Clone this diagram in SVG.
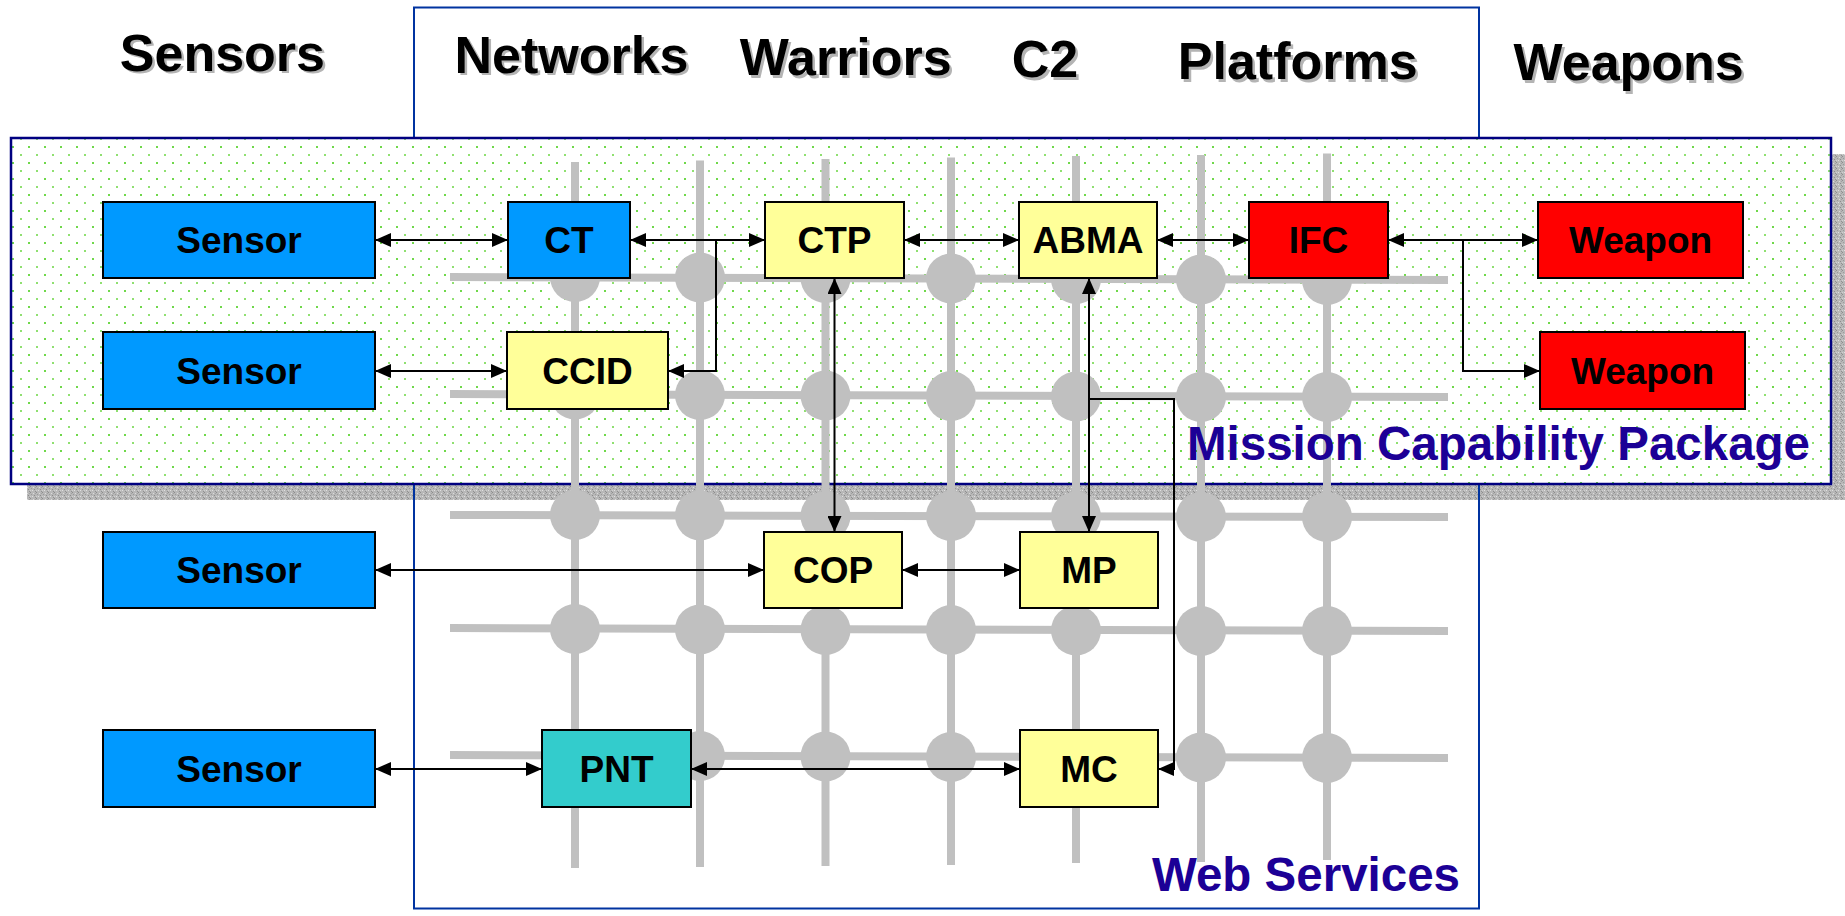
<svg xmlns="http://www.w3.org/2000/svg" width="1845" height="916" viewBox="0 0 1845 916">
  <style>
    .hdr { font-family: "Liberation Sans", Arial, sans-serif; font-weight: bold; font-size: 52px; text-anchor: middle; fill: #000; }
    .hdr-sh { font-family: "Liberation Sans", Arial, sans-serif; font-weight: bold; font-size: 52px; text-anchor: middle; fill: #b4b4b4; }
    .lbl { font-family: "Liberation Sans", Arial, sans-serif; font-weight: bold; font-size: 37px; text-anchor: middle; fill: #000; }
    .big { font-family: "Liberation Sans", Arial, sans-serif; font-weight: bold; font-size: 47.5px; text-anchor: end; fill: #1c0096; }
    .box { stroke: #000; stroke-width: 2; }
    .blue { fill: #0099ff; }
    .red { fill: #ff0000; }
    .yel { fill: #ffff99; }
    .teal { fill: #33cccc; }
    .gv { stroke: #c0c0c0; stroke-width: 8; fill: none; }
    .gn { fill: #c0c0c0; }
    .conn { stroke: #000; stroke-width: 2; fill: none; }
    .both { marker-start: url(#arr); marker-end: url(#arr); }
    .one { marker-end: url(#arr); }
  </style>
  <defs>
    <pattern id="dots" patternUnits="userSpaceOnUse" x="0" y="0" width="16" height="16">
      <rect width="16" height="16" fill="#ffffff"/>
      <rect x="12" y="2" width="2" height="2" fill="#6fd84a"/>
      <rect x="4" y="10" width="2" height="2" fill="#8fe070"/>
    </pattern>
    <pattern id="grain" patternUnits="userSpaceOnUse" width="6" height="6">
      <rect width="6" height="6" fill="#b8b8b8"/>
      <rect x="0" y="0" width="1" height="1" fill="#8c8c8c"/>
      <rect x="3" y="1" width="1" height="1" fill="#dcdcdc"/>
      <rect x="1" y="2" width="1" height="1" fill="#9a9a9a"/>
      <rect x="4" y="3" width="1" height="1" fill="#8c8c8c"/>
      <rect x="2" y="4" width="1" height="1" fill="#e0e0e0"/>
      <rect x="5" y="5" width="1" height="1" fill="#909090"/>
      <rect x="0" y="4" width="1" height="1" fill="#d0d0d0"/>
      <rect x="5" y="1" width="1" height="1" fill="#a0a0a0"/>
    </pattern>
    <marker id="arr" markerUnits="userSpaceOnUse" markerWidth="16" markerHeight="14" refX="16" refY="7" orient="auto-start-reverse">
      <path d="M0,0 L16,7 L0,14 z" fill="#000"/>
    </marker>
  </defs>

  <rect width="1845" height="916" fill="#ffffff"/>

  <!-- Mission capability package shadow -->
  <rect x="27" y="154" width="1820" height="346" fill="url(#grain)"/>

  <!-- Web services frame -->
  <rect id="web-services" x="414" y="7.5" width="1065" height="901" fill="none" stroke="#0033a0" stroke-width="2"/>

  <!-- Mission capability package frame -->
  <rect id="mission-capability-package" x="11" y="138" width="1820" height="346" fill="url(#dots)" stroke="#000080" stroke-width="2.5"/>

  <!-- Network grid -->
  <g id="grid">
    <line class="gv" x1="450" y1="277" x2="1448" y2="280"/>
    <line class="gv" x1="450" y1="394" x2="1448" y2="397"/>
    <line class="gv" x1="450" y1="515" x2="1448" y2="517"/>
    <line class="gv" x1="450" y1="628" x2="1448" y2="631"/>
    <line class="gv" x1="450" y1="755" x2="1448" y2="758"/>
    <line class="gv" x1="575" y1="162" x2="575" y2="868"/>
    <line class="gv" x1="700" y1="160.5" x2="700" y2="867"/>
    <line class="gv" x1="825.5" y1="159" x2="825.5" y2="866"/>
    <line class="gv" x1="951" y1="157.5" x2="951" y2="865"/>
    <line class="gv" x1="1076" y1="156" x2="1076" y2="863"/>
    <line class="gv" x1="1201" y1="155" x2="1201" y2="862"/>
    <line class="gv" x1="1327" y1="153.5" x2="1327" y2="860"/>
    <g class="gn">
      <circle cx="575" cy="277" r="25"/><circle cx="700" cy="277.5" r="25"/><circle cx="825.5" cy="278" r="25"/><circle cx="951" cy="278.5" r="25"/><circle cx="1076" cy="279" r="25"/><circle cx="1201" cy="279.5" r="25"/><circle cx="1327" cy="280" r="25"/>
      <circle cx="575" cy="394.5" r="25"/><circle cx="700" cy="395" r="25"/><circle cx="825.5" cy="395.5" r="25"/><circle cx="951" cy="396" r="25"/><circle cx="1076" cy="396.5" r="25"/><circle cx="1201" cy="397" r="25"/><circle cx="1327" cy="397" r="25"/>
      <circle cx="575" cy="515" r="25"/><circle cx="700" cy="515.5" r="25"/><circle cx="825.5" cy="516" r="25"/><circle cx="951" cy="516" r="25"/><circle cx="1076" cy="516.5" r="25"/><circle cx="1201" cy="517" r="25"/><circle cx="1327" cy="517" r="25"/>
      <circle cx="575" cy="629" r="25"/><circle cx="700" cy="629.5" r="25"/><circle cx="825.5" cy="630" r="25"/><circle cx="951" cy="630" r="25"/><circle cx="1076" cy="630.5" r="25"/><circle cx="1201" cy="631" r="25"/><circle cx="1327" cy="631" r="25"/>
      <circle cx="575" cy="755.5" r="25"/><circle cx="700" cy="756" r="25"/><circle cx="825.5" cy="756.5" r="25"/><circle cx="951" cy="757" r="25"/><circle cx="1076" cy="757" r="25"/><circle cx="1201" cy="757.5" r="25"/><circle cx="1327" cy="758" r="25"/>
    </g>
  </g>

  <!-- Column headings -->
  <g id="headings">
    <text class="hdr-sh" x="224.9" y="73.2">Sensors</text>
    <text class="hdr" x="222.4" y="70.7">Sensors</text>
    <text class="hdr-sh" x="574" y="75.2">Networks</text>
    <text class="hdr" x="571.5" y="72.7">Networks</text>
    <text class="hdr-sh" x="848.3" y="77.5">Warriors</text>
    <text class="hdr" x="845.8" y="75">Warriors</text>
    <text class="hdr-sh" x="1047.5" y="79.8">C2</text>
    <text class="hdr" x="1045" y="77.3">C2</text>
    <text class="hdr-sh" x="1300.2" y="81.5">Platforms</text>
    <text class="hdr" x="1297.7" y="79">Platforms</text>
    <text class="hdr-sh" x="1631.2" y="82.5">Weapons</text>
    <text class="hdr" x="1628.7" y="80">Weapons</text>
  </g>

  <!-- Connectors -->
  <g id="connectors">
    <path class="conn both" d="M375,240 H508"/>
    <path class="conn both" d="M630,240 H765"/>
    <path class="conn one" d="M716,240 V371 H668"/>
    <path class="conn both" d="M375,371 H507"/>
    <path class="conn both" d="M904,240 H1019"/>
    <path class="conn both" d="M1157,240 H1249"/>
    <path class="conn both" d="M1388,240 H1538"/>
    <path class="conn one" d="M1463,240 V371 H1540"/>
    <path class="conn both" d="M834.5,278 V532"/>
    <path class="conn both" d="M1089,278 V532"/>
    <path class="conn one" d="M1089,399 H1174 V769 H1158"/>
    <path class="conn both" d="M375,570 H764"/>
    <path class="conn both" d="M902,570 H1020"/>
    <path class="conn both" d="M375,769 H542"/>
    <path class="conn both" d="M691,769 H1020"/>
  </g>

  <!-- Nodes -->
  <g id="sensor-1"><rect class="box blue" x="103" y="202" width="272" height="76"/><text class="lbl" x="239" y="253">Sensor</text></g>
  <g id="sensor-2"><rect class="box blue" x="103" y="332" width="272" height="77"/><text class="lbl" x="239" y="383.5">Sensor</text></g>
  <g id="sensor-3"><rect class="box blue" x="103" y="532" width="272" height="76"/><text class="lbl" x="239" y="583">Sensor</text></g>
  <g id="sensor-4"><rect class="box blue" x="103" y="730" width="272" height="77"/><text class="lbl" x="239" y="781.5">Sensor</text></g>
  <g id="ct"><rect class="box blue" x="508" y="202" width="122" height="76"/><text class="lbl" x="569" y="253">CT</text></g>
  <g id="ctp"><rect class="box yel" x="765" y="202" width="139" height="76"/><text class="lbl" x="834.5" y="253">CTP</text></g>
  <g id="abma"><rect class="box yel" x="1019" y="202" width="138" height="76"/><text class="lbl" x="1088" y="253">ABMA</text></g>
  <g id="ifc"><rect class="box red" x="1249" y="202" width="139" height="76"/><text class="lbl" x="1318.5" y="253">IFC</text></g>
  <g id="weapon-1"><rect class="box red" x="1538" y="202" width="205" height="76"/><text class="lbl" x="1640.5" y="253">Weapon</text></g>
  <g id="ccid"><rect class="box yel" x="507" y="332" width="161" height="77"/><text class="lbl" x="587.5" y="383.5">CCID</text></g>
  <g id="weapon-2"><rect class="box red" x="1540" y="332" width="205" height="77"/><text class="lbl" x="1642.5" y="383.5">Weapon</text></g>
  <g id="cop"><rect class="box yel" x="764" y="532" width="138" height="76"/><text class="lbl" x="833" y="583">COP</text></g>
  <g id="mp"><rect class="box yel" x="1020" y="532" width="138" height="76"/><text class="lbl" x="1089" y="583">MP</text></g>
  <g id="pnt"><rect class="box teal" x="542" y="730" width="149" height="77"/><text class="lbl" x="616.5" y="781.5">PNT</text></g>
  <g id="mc"><rect class="box yel" x="1020" y="730" width="138" height="77"/><text class="lbl" x="1089" y="781.5">MC</text></g>

  <!-- Region titles -->
  <text class="big" x="1810" y="460">Mission Capability Package</text>
  <text class="big" x="1460" y="891">Web Services</text>
</svg>
